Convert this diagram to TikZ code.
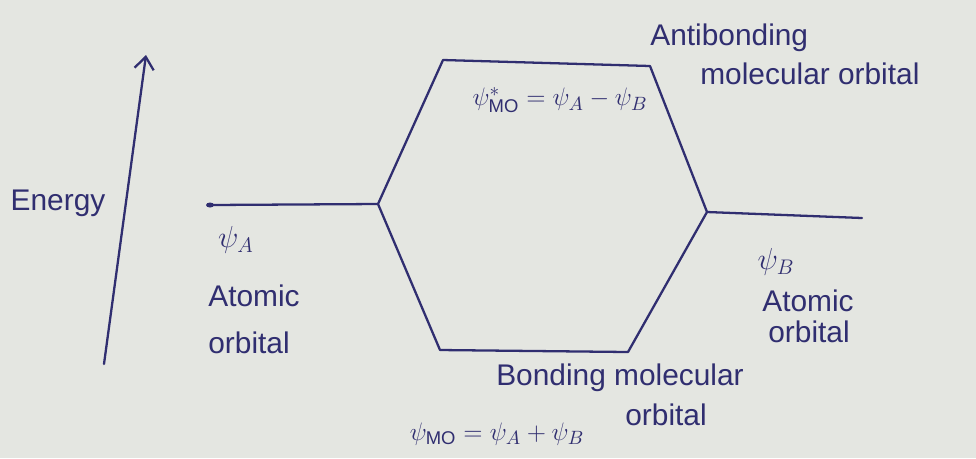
\documentclass[tikz,border=0pt]{standalone}
\usepackage{fontspec}
\setmainfont{Liberation Sans}
\usetikzlibrary{arrows.meta}
\definecolor{ink}{RGB}{48,46,112}
\definecolor{paper}{RGB}{228,230,225}
\tikzset{
  lvl/.style={draw=ink, line width=1.3pt, line cap=round, line join=round},
  lbl/.style={text=ink, font=\fontsize{17}{19}\selectfont, inner sep=0pt},
  eqn/.style={text=ink, font=\fontsize{15}{17}\selectfont, inner sep=0pt},
  dotend/.style={fill=ink, draw=none},
}
\begin{document}
\begin{tikzpicture}[x=0.02cm, y=-0.02cm]
\fill[paper] (0,0) rectangle (976,458);
\useasboundingbox (0,0) rectangle (976,458);
% energy axis
\coordinate (eb) at (104,364);
\coordinate (et) at (146,55);
\draw[lvl, -{Straight Barb[length=7pt,width=11pt]}] (eb) -- (et);
\node[lbl, anchor=center] (energy) at (58,203) {Energy};
% hexagon vertices
\coordinate (L) at (378,204);
\coordinate (TL) at (443,60);
\coordinate (TR) at (650,66);
\coordinate (R) at (707,212);
\coordinate (BR) at (628,352);
\coordinate (BL) at (440,350);
\coordinate (A0) at (210,205);
\coordinate (B1) at (862,218);
\draw[lvl] (A0) -- (L);
\draw[lvl] (R) -- (B1);
\fill[dotend] (A0) ellipse (4 and 2.5);
\draw[lvl] (L) -- (TL) -- (TR) -- (R) -- (BR) -- (BL) -- cycle;
% labels left
\node[lbl] (psiA) at (236,240) {$\psi_A$};
\node[lbl, anchor=west] (atA) at (208,296) {Atomic};
\node[lbl, anchor=west] (orA) at (208,343) {orbital};
% labels right
\node[lbl] (psiB) at (776,262) {$\psi_B$};
\node[lbl, anchor=west] (atB) at (762,301) {Atomic};
\node[lbl, anchor=west] (orB) at (768,332) {orbital};
% antibonding
\node[eqn] (astar) at (560,100) {$\psi^{*}_{\mathrm{MO}}=\psi_A-\psi_B$};
\node[lbl, anchor=west] (anti) at (650,38) {Antibonding};
\node[lbl, anchor=west] (antim) at (700,74) {molecular orbital};
% bonding
\node[lbl] (bond) at (620,378) {Bonding molecular};
\node[lbl, anchor=west] (bondo) at (625,415) {orbital};
\node[eqn] (bmo) at (497,434) {$\psi_{\mathrm{MO}}=\psi_A+\psi_B$};
\end{tikzpicture}
\end{document}
